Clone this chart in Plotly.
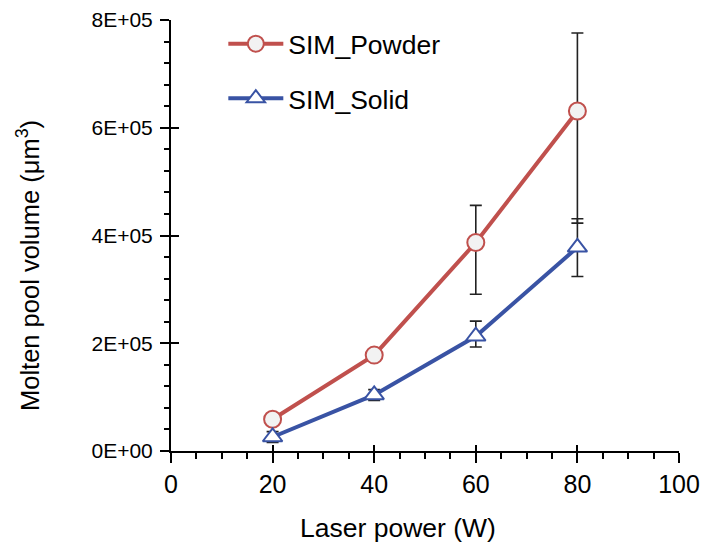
import plotly.graph_objects as go

laser_power = [20, 40, 60, 80]
powder_vol = [59000, 178000, 387000, 631000]
powder_err_plus = [0, 0, 69000, 145000]
powder_err_minus = [0, 0, 96000, 208000]
solid_vol = [26000, 104000, 213000, 378000]
solid_err_plus = [10000, 10000, 28000, 53000]
solid_err_minus = [10000, 10000, 20000, 54000]

x_ticks = [0, 20, 40, 60, 80, 100]
y_ticks = [0, 200000, 400000, 600000, 800000]
y_tick_labels = ["0E+00", "2E+05", "4E+05", "6E+05", "8E+05"]

x_title = "Laser power (W)"
y_title = "Molten pool volume (μm<sup>3</sup>)"

RED = "#C0504D"
BLUE = "#3953A4"
FONT = "Liberation Sans, Arial, sans-serif"

fig = go.Figure()
fig.add_trace(go.Scatter(
    x=laser_power, y=powder_vol, name="SIM_Powder", mode="lines+markers",
    legendgroup="a",
    line=dict(color=RED, width=4),
    marker=dict(symbol="circle", size=17, color="#F2F2F2", line=dict(color=RED, width=2)),
    error_y=dict(type="data", symmetric=False, array=powder_err_plus, arrayminus=powder_err_minus,
                 color="#222222", thickness=1.6, width=6),
))
fig.add_trace(go.Scatter(
    x=laser_power, y=solid_vol, name="SIM_Solid", mode="lines+markers",
    legendgroup="b",
    line=dict(color=BLUE, width=4),
    marker=dict(symbol="triangle-up", size=17, color="#FFFFFF", line=dict(color=BLUE, width=2)),
    error_y=dict(type="data", symmetric=False, array=solid_err_plus, arrayminus=solid_err_minus,
                 color="#222222", thickness=1.6, width=6),
))
# invisible trace to activate inner-tick overlay axes
fig.add_trace(go.Scatter(x=[None], y=[None], xaxis="x2", yaxis="y2", showlegend=False, hoverinfo="skip"))

axis_common = dict(showgrid=False, zeroline=False, showline=True, linecolor="#000000", linewidth=2,
                   tickcolor="#000000", tickwidth=2, automargin=False)

fig.update_layout(
    width=701, height=548,
    margin=dict(l=171, r=22, t=20, b=97),
    paper_bgcolor="white", plot_bgcolor="white",
    font=dict(family=FONT, size=20, color="#000000"),
    xaxis=dict(range=[0, 100], tickvals=x_ticks, ticks="outside", ticklen=10,
               tickfont=dict(family=FONT, size=25, color="#000000"),
               minor=dict(ticks="outside", dtick=5, tick0=0, ticklen=6, tickwidth=2, tickcolor="#000000"),
               **axis_common),
    yaxis=dict(range=[0, 800000], tickvals=y_ticks, ticktext=y_tick_labels, ticks="outside", ticklen=9,
               tickfont=dict(family=FONT, size=21, color="#000000"), ticklabelstandoff=3,
               minor=dict(ticks="outside", dtick=40000, tick0=0, ticklen=5, tickwidth=2, tickcolor="#000000"),
               **axis_common),
    xaxis2=dict(overlaying="x", anchor="y2", range=[0, 100], tickvals=x_ticks, ticks="inside", ticklen=6,
                tickwidth=2, tickcolor="#000000", showticklabels=False, showgrid=False, zeroline=False,
                showline=False),
    yaxis2=dict(overlaying="y", anchor="x2", range=[0, 800000], tickvals=y_ticks, ticks="inside", ticklen=8,
                tickwidth=2, tickcolor="#000000", showticklabels=False, showgrid=False, zeroline=False,
                showline=False),
    legend=dict(x=0.103, y=1.0, xanchor="left", yanchor="top", bgcolor="rgba(0,0,0,0)",
                font=dict(family=FONT, size=26.5, color="#000000"), itemwidth=55, tracegroupgap=17),
    showlegend=True,
    annotations=[
        dict(text=x_title, xref="paper", yref="paper", x=(398 - 171) / 508, y=(451 - 528) / 431,
             xanchor="center", yanchor="middle", showarrow=False,
             font=dict(family=FONT, size=26.5, color="#000000")),
        dict(text=y_title, xref="paper", yref="paper", x=(28 - 171) / 508, y=(451 - 266) / 431,
             xanchor="center", yanchor="middle", textangle=-90, showarrow=False,
             font=dict(family=FONT, size=25.5, color="#000000")),
    ],
)

fig.write_html("out.html")
